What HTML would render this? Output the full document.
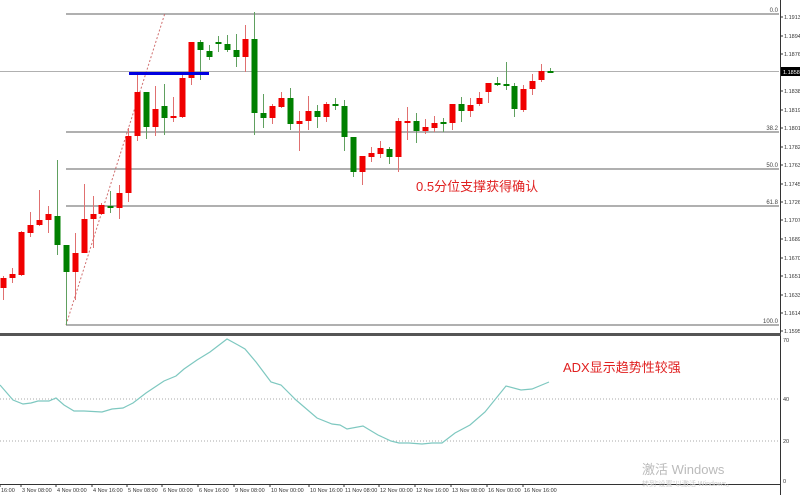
<!DOCTYPE html>
<html><head><meta charset="utf-8"><style>
html,body{margin:0;padding:0;background:#fff;}
svg{display:block;font-family:"Liberation Sans","Noto Sans CJK SC",sans-serif;}
</style></head><body>
<svg id="s" width="800" height="495" viewBox="0 0 800 495" xmlns="http://www.w3.org/2000/svg">
<rect width="800" height="495" fill="#fff"/>
<g stroke="#808080" stroke-width="1.2">
<line x1="66" y1="14" x2="779" y2="14"/>
<line x1="66" y1="132" x2="779" y2="132"/>
<line x1="66" y1="169" x2="779" y2="169"/>
<line x1="66" y1="206" x2="779" y2="206"/>
<line x1="66" y1="325" x2="779" y2="325"/>
</g>
<line x1="0" y1="71.5" x2="779" y2="71.5" stroke="#b0b0b0" stroke-width="1"/>
<line x1="66" y1="325" x2="165" y2="13" stroke="#d07070" stroke-width="1" stroke-dasharray="2,2"/>
<g font-size="6" fill="#444" text-anchor="end">
<text x="778" y="12">0.0</text>
<text x="778" y="130">38.2</text>
<text x="778" y="167">50.0</text>
<text x="778" y="204">61.8</text>
<text x="778" y="323">100.0</text>
</g>
<g id="candles"></g>
<line x1="129" y1="73.5" x2="209" y2="73.5" stroke="#0000e0" stroke-width="3"/>
<text x="416" y="191" font-size="13" fill="#e02020">0.5分位支撑获得确认</text>
<line x1="780.5" y1="0" x2="780.5" y2="495" stroke="#333" stroke-width="1"/>
<g id="ax" font-size="5.5" fill="#333"></g>
<rect x="781" y="67" width="19" height="9" fill="#000"/>
<text x="783" y="74" font-size="5.5" fill="#fff">1.1858</text>
<rect x="0" y="333" width="781" height="3" fill="#555"/>
<line x1="0" y1="484.5" x2="781" y2="484.5" stroke="#333"/>
<g stroke="#aaa" stroke-dasharray="1,2">
<line x1="0" y1="399" x2="780" y2="399"/>
<line x1="0" y1="441" x2="780" y2="441"/>
</g>
<g font-size="5.5" fill="#333">
<text x="783" y="342">70</text>
<text x="783" y="401">40</text>
<text x="783" y="443">20</text>
<text x="783" y="483">0</text>
</g>
<polyline fill="none" stroke="#7ec8c0" stroke-width="1.2" points="0,385 13,400 23,404 31,403 38,401 49,401 56,398 64,405 74,411 84,411 102,412 112,409 123,408 133,403 146,393 164,381 176,376 184,369 197,360 210,352 227,339 238,345 245,349 256,362 271,382 281,385 296,400 317,418 332,424 340,425 347,429 363,426 378,435 391,441 399,443 409,443 422,444 432,443 442,443 455,433 470,425 485,412 506,386 521,390 532,389 549,382"/>
<text x="563" y="372" font-size="13" fill="#e02020">ADX显示趋势性较强</text>
<text x="642" y="474" font-size="13" fill="#bbb">激活 Windows</text>
<text x="642" y="486" font-size="7" fill="#ccc">转到"设置"以激活 Windows。</text>
<g font-size="5.5" fill="#333" id="xl"></g>
</svg>
<script>
var NS="http://www.w3.org/2000/svg";
function el(p,t,a,txt){var e=document.createElementNS(NS,t);for(var k in a)e.setAttribute(k,a[k]);if(txt)e.textContent=txt;p.appendChild(e);return e;}
var C=[[3,278,288,276,300,'r'],[12,274,278,268,283,'r'],[21,232,275,231,276,'r'],[30,225,233,212,237,'r'],[39,220,225,190,226,'r'],[48,214,220,206,233,'r'],[57,216,245,160,255,'g'],[66,245,272,245,325,'g'],[75,253,272,233,300,'r'],[84,219,253,184,253,'r'],[93,214,219,196,248,'r'],[101,205,214,203,215,'r'],[110,206,208,191,213,'g'],[119,193,208,185,219,'r'],[128,136,193,128,202,'r'],[137,92,136,72,141,'r'],[146,92,127,92,139,'g'],[155,109,127,86,136,'r'],[164,106,118,84,135,'g'],[173,116,118,97,122,'r'],[182,78,117,75,118,'r'],[191,42,78,42,85,'r'],[200,42,50,40,80,'g'],[209,51,57,45,60,'g'],[218,42,44,36,52,'g'],[227,44,50,35,52,'g'],[236,50,57,34,67,'g'],[245,39,57,25,72,'r'],[254,39,113,12,135,'g'],[263,113,118,94,128,'g'],[272,106,118,104,124,'r'],[281,98,107,92,108,'r'],[290,98,124,88,130,'g'],[299,121,124,111,151,'r'],[308,111,121,96,130,'r'],[317,111,117,105,128,'g'],[326,104,117,102,122,'r'],[335,104,106,98,110,'g'],[344,106,137,100,151,'g'],[353,137,172,137,177,'g'],[362,156,172,156,185,'r'],[371,153,157,147,162,'r'],[380,148,154,141,158,'r'],[389,149,157,147,164,'g'],[398,121,157,118,172,'r'],[407,121,122,107,140,'r'],[416,121,131,113,143,'g'],[425,127,131,119,134,'r'],[434,123,128,116,132,'r'],[443,122,124,118,132,'g'],[452,104,123,104,130,'r'],[461,104,111,97,122,'g'],[470,105,111,98,117,'r'],[479,98,104,92,106,'r'],[488,83,92,83,103,'r'],[497,83,84,77,86,'g'],[506,84,86,62,90,'g'],[514,86,109,83,117,'g'],[523,89,110,85,112,'r'],[532,81,89,74,95,'r'],[541,71,80,64,82,'r'],[550,71,72,68,73,'g']];
var g=document.getElementById('candles');
C.forEach(function(c){var col=c[5]=='r'?'#f00000':'#008000';var wc=c[5]=='r'?'#e07070':'#60a060';
el(g,'line',{x1:c[0]+0.5,x2:c[0]+0.5,y1:c[3],y2:c[4],stroke:wc,'stroke-width':1});
el(g,'rect',{x:c[0]-2.5,y:c[1],width:6,height:Math.max(2,c[2]-c[1]),fill:col});});
var ax=document.getElementById('ax');
[["1.1913",17],["1.1894",36],["1.1876",54],["1.1838",91],["1.1819",110],["1.1801",128],["1.1782",147],["1.1763",165],["1.1745",184],["1.1726",202],["1.1707",220],["1.1689",239],["1.1670",258],["1.1651",276],["1.1633",295],["1.1614",313],["1.1595",331]].forEach(function(a){
el(ax,'line',{x1:780,x2:783,y1:a[1],y2:a[1],stroke:'#333'});el(ax,'text',{x:784,y:a[1]+2},a[0]);});
var xl=document.getElementById('xl');
[["16:00",1],["3 Nov 08:00",22],["4 Nov 00:00",57],["4 Nov 16:00",93],["5 Nov 08:00",128],["6 Nov 00:00",163],["6 Nov 16:00",199],["9 Nov 08:00",235],["10 Nov 00:00",271],["10 Nov 16:00",310],["11 Nov 08:00",345],["12 Nov 00:00",380],["12 Nov 16:00",416],["13 Nov 08:00",452],["16 Nov 00:00",488],["16 Nov 16:00",524]].forEach(function(a){
el(xl,'line',{x1:a[1]-1,x2:a[1]-1,y1:484,y2:487,stroke:'#333'});el(xl,'text',{x:a[1],y:492},a[0]);});
</script>
</body></html>
